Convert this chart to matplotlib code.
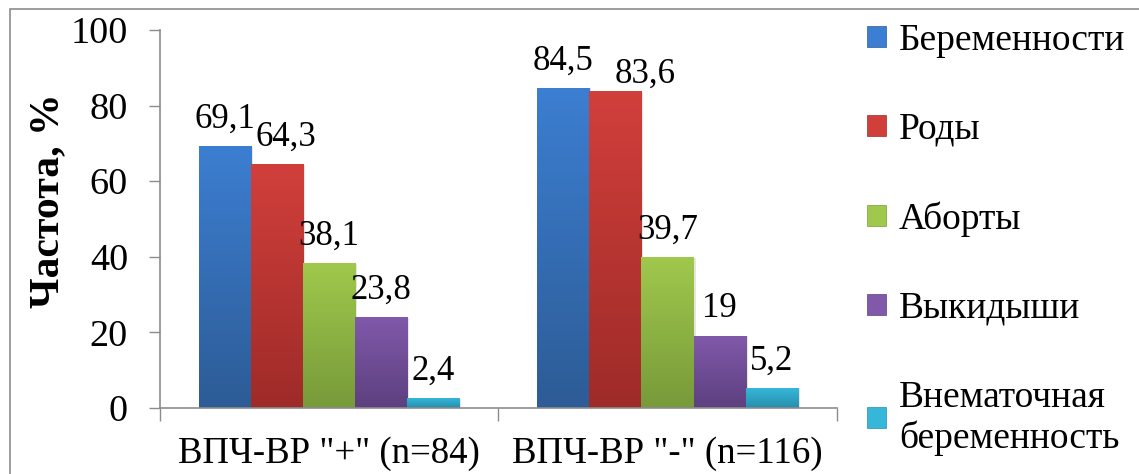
import numpy as np
import matplotlib.pyplot as plt
from matplotlib.colors import LinearSegmentedColormap
from matplotlib.patches import Rectangle

# data
groups = ['ВПЧ-ВР "+" (n=84)', 'ВПЧ-ВР "-" (n=116)']
series = ['Беременности', 'Роды', 'Аборты', 'Выкидыши', 'Внематочная\nбеременность']
values = [
    [69.1, 84.5],
    [64.3, 83.6],
    [38.1, 39.7],
    [23.8, 19.0],
    [2.4, 5.2],
]
labels = [
    ['69,1', '84,5'],
    ['64,3', '83,6'],
    ['38,1', '39,7'],
    ['23,8', '19'],
    ['2,4', '5,2'],
]
# (top colour, bottom colour) for the gradient fill
colors = [
    ('#3C7ED1', '#2D5C96'),
    ('#D13F3B', '#9E2B28'),
    ('#A0C84C', '#789A3A'),
    ('#8059AA', '#5D407F'),
    ('#36B6D8', '#268FAD'),
]
# hand-nudged label offsets (x in category units, y in %), like the original
label_dx = [[0.0, 0.0], [0.027, 0.089], [0.0, 0.0], [0.0, 0.0], [0.0, 0.0]]
label_dy = [[0.0, 0.0], [0.0, -2.5], [0.0, 0.0], [0.0, 0.0], [0.0, 0.0]]

plt.rcParams['font.family'] = ['Liberation Serif', 'DejaVu Serif']

fig = plt.figure(figsize=(11.39, 4.74), dpi=100)
ax = fig.add_axes([0.1405, 0.139, 0.594, 0.798])

# outer chart border
fig.patches.append(Rectangle((10 / 1139, -0.05), 1.2, 1 - 9 / 474 + 0.05,
                             transform=fig.transFigure, fill=False,
                             edgecolor='#8c8c8c', lw=1.2, zorder=0))

x = np.arange(len(groups))
width = 0.154
handles = []
for i, name in enumerate(series):
    pos = x + (i - 2) * width
    bars = ax.bar(pos, values[i], width, color=colors[i][0], label=name, zorder=2)
    cmap = LinearSegmentedColormap.from_list('g%d' % i, [colors[i][1], colors[i][0]])
    for j, (b, lab) in enumerate(zip(bars, labels[i])):
        x0, w, h = b.get_x(), b.get_width(), b.get_height()
        # soft shadow
        ax.add_patch(Rectangle((x0 + 0.006, 0), w, h, color='#000000', alpha=0.10,
                               lw=0, zorder=1))
        ax.imshow(np.linspace(0, 1, 100).reshape(-1, 1), cmap=cmap, origin='lower',
                  extent=[x0, x0 + w, 0, h], aspect='auto', zorder=2.5)
        b.set_alpha(0)
        ax.text(x0 + w / 2 + label_dx[i][j], h + 5 + label_dy[i][j], lab,
                ha='center', va='baseline', fontsize=25)
    handles.append(Rectangle((0, 0), 1, 1, facecolor=colors[i][0], edgecolor=colors[i][1], lw=0.5))

ax.set_xlim(-0.5, 1.5)
ax.set_ylim(0, 100)
ax.set_yticks(np.arange(0, 101, 20))
ax.tick_params(axis='y', labelsize=27.5, length=8, width=1, color='#8c8c8c', pad=15, direction='out')
ax.set_xticks([-0.5, 0.5, 1.5], minor=False)
ax.set_xticklabels(['', '', ''])
ax.set_xticks(x, minor=True)
ax.set_xticklabels(groups, minor=True, fontsize=26.5)
ax.tick_params(axis='x', which='major', length=9, width=1, color='#8c8c8c', direction='out')
ax.tick_params(axis='x', which='minor', length=0, pad=20)

for s in ['top', 'right']:
    ax.spines[s].set_visible(False)
for s in ['left', 'bottom']:
    ax.spines[s].set_color('#8c8c8c')
    ax.spines[s].set_linewidth(1.2)

ax.set_ylabel('Частота, %', fontsize=30, fontweight='bold', va='center')
ax.yaxis.set_label_coords(-0.166, 0.548)

fig.legend(handles, series, loc='upper left', bbox_to_anchor=(0.748, 0.982),
           frameon=False, fontsize=27, handlelength=0.5, handleheight=0.5,
           handletextpad=0.35, labelspacing=1.45, borderaxespad=0)

fig.savefig('out.png', dpi=100)
